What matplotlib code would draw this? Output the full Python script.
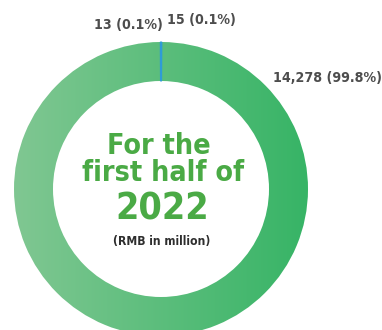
import matplotlib.pyplot as plt
import numpy as np
from matplotlib.colors import LinearSegmentedColormap

values = [15, 14278, 13]
labels = ['15 (0.1%)', '14,278 (99.8%)', '13 (0.1%)']
title_lines = ['For the', 'first half of']
year = '2022'
unit = '(RMB in million)'

fig = plt.figure(figsize=(3.82, 3.30), dpi=100)
ax = fig.add_axes([0, 0, 1, 1])

cx, cy, R, w = 161, 141, 147, 39
wedges, _ = ax.pie(values, center=(cx, cy), radius=R, startangle=90,
                   counterclock=False, colors=['#2f9bd6', 'none', '#2f9bd6'],
                   wedgeprops=dict(width=w, linewidth=0))
for i in (0, 2):
    wedges[i].set_edgecolor('#2f9bd6')
    wedges[i].set_linewidth(0.6)

# horizontal green gradient filling the big wedge
cmap = LinearSegmentedColormap.from_list('g', ['#80c792', '#37b466'])
grad = np.linspace(0, 1, 256).reshape(1, -1)
im = ax.imshow(grad, cmap=cmap, extent=(cx - R, cx + R, cy - R, cy + R),
               aspect='auto', zorder=0.5)
im.set_clip_path(wedges[1])
ax.set_xlim(0, 382)
ax.set_ylim(0, 330)
ax.set_aspect('equal')
ax.axis('off')

cond = dict(family='DejaVu Sans', stretch='condensed', fontweight='bold')
green = '#4aaa45'
ax.text(cx - 2, 184, title_lines[0], ha='center', va='center', fontsize=20.5,
        color=green, **cond)
ax.text(cx + 2, 157, title_lines[1], ha='center', va='center', fontsize=20.5,
        color=green, **cond)
ax.text(cx + 1, 121, year, ha='center', va='center', fontsize=27,
        color=green, **cond)
ax.text(cx + 1, 88.5, unit, ha='center', va='center', fontsize=8.7,
        color='#2e2e2e', **cond)

grey = '#4d4d4d'
ax.text(163, 305, labels[2], ha='right', va='center', fontsize=10.2,
        color=grey, **cond)
ax.text(167, 310, labels[0], ha='left', va='center', fontsize=10.2,
        color=grey, **cond)
ax.text(273, 251.5, labels[1], ha='left', va='center', fontsize=10.2,
        color=grey, **cond)

fig.savefig('out.png', dpi=100)
